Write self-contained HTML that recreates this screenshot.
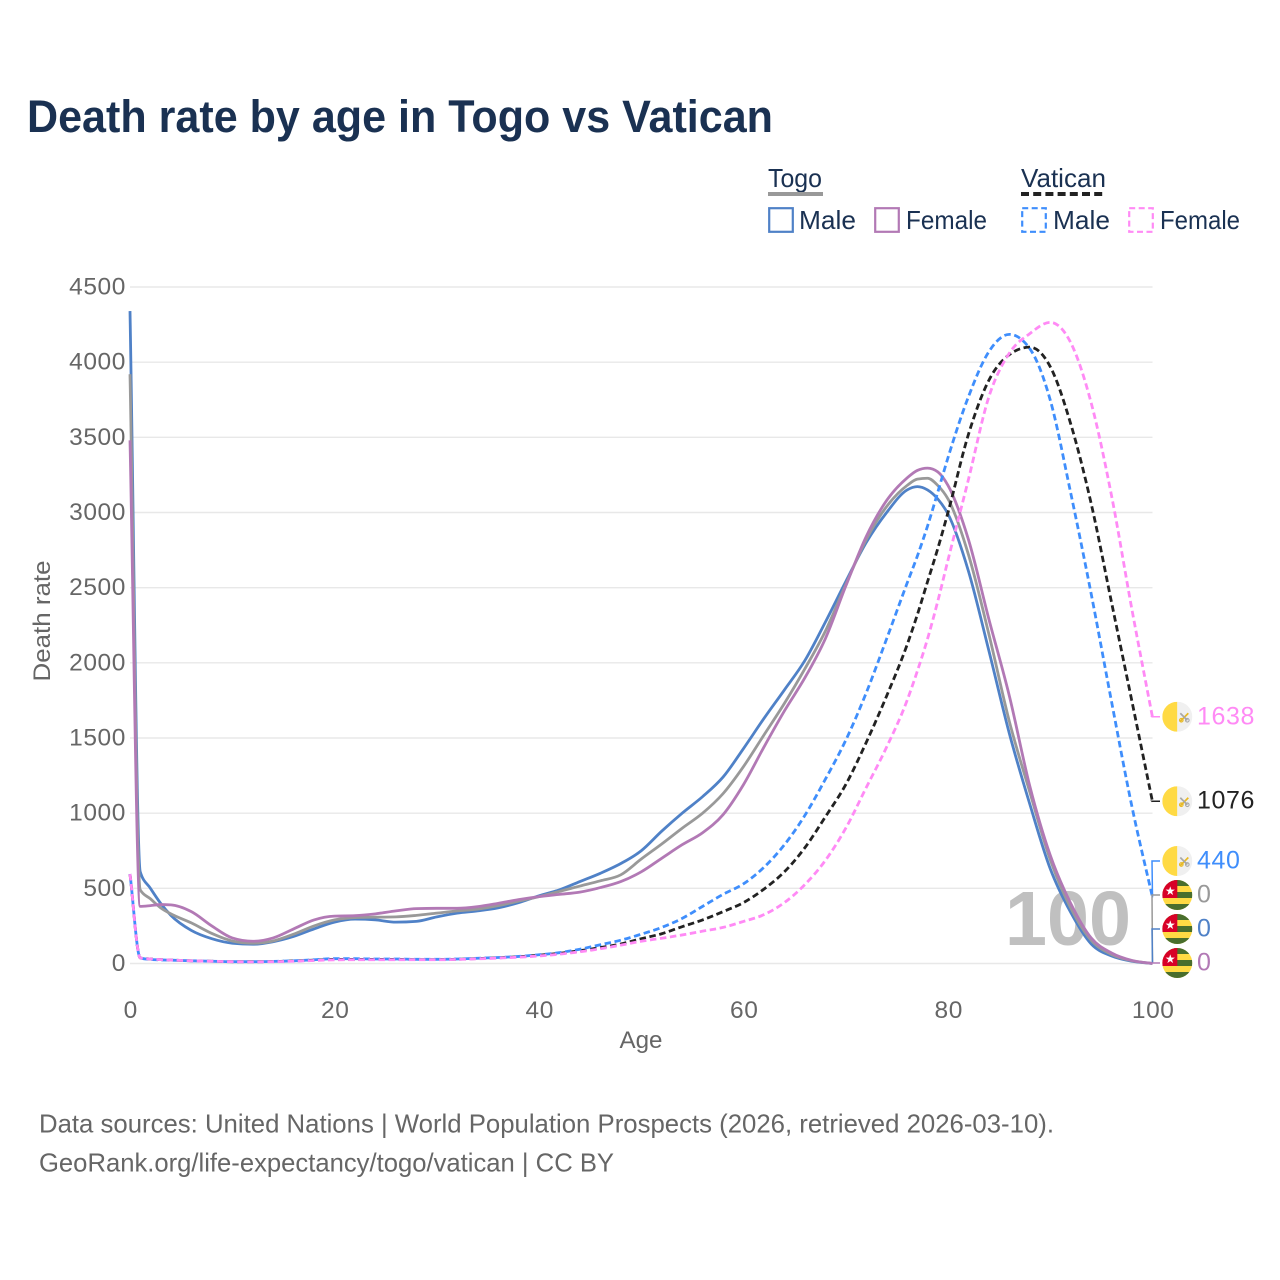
<!DOCTYPE html>
<html lang="en">
<head>
<meta charset="utf-8">
<title>Death rate by age in Togo vs Vatican</title>
<style>
html,body{margin:0;padding:0;background:#fff;}
svg{display:block;font-family:"Liberation Sans",sans-serif;}
</style>
</head>
<body>
<svg id="chart" xmlns="http://www.w3.org/2000/svg" width="1280" height="1280" viewBox="0 0 1280 1280">
  <defs>
    <clipPath id="flagClip"><circle cx="0" cy="0" r="15"/></clipPath>
  </defs>
  <rect x="0" y="0" width="1280" height="1280" fill="#ffffff"/>
  <text x="27" y="132" font-size="45" font-weight="700" fill="#1a3152" textLength="746" lengthAdjust="spacingAndGlyphs">Death rate by age in Togo vs Vatican</text>

  <g font-size="26" fill="#1a3152">
    <text x="768" y="187" textLength="54" lengthAdjust="spacingAndGlyphs">Togo</text>
    <rect x="768" y="192" width="55" height="4" fill="#999999"/>
    <text x="1021" y="187" textLength="85" lengthAdjust="spacingAndGlyphs">Vatican</text>
    <line x1="1021" y1="194" x2="1106" y2="194" stroke="#222222" stroke-width="4" stroke-dasharray="8 4.2"/>
    <rect x="769.2" y="208.2" width="23.6" height="23.6" fill="none" stroke="#4f81c7" stroke-width="2.2"/>
    <text x="799" y="229" textLength="57" lengthAdjust="spacingAndGlyphs">Male</text>
    <rect x="875.2" y="208.2" width="23.6" height="23.6" fill="none" stroke="#b279b5" stroke-width="2.2"/>
    <text x="906" y="229" textLength="81" lengthAdjust="spacingAndGlyphs">Female</text>
    <rect x="1022.2" y="208.2" width="23.6" height="23.6" fill="none" stroke="#3f8efc" stroke-width="2.2" stroke-dasharray="6 3.5"/>
    <text x="1053" y="229" textLength="57" lengthAdjust="spacingAndGlyphs">Male</text>
    <rect x="1129.2" y="208.2" width="23.6" height="23.6" fill="none" stroke="#ff8af5" stroke-width="2.2" stroke-dasharray="6 3.5"/>
    <text x="1160" y="229" textLength="80" lengthAdjust="spacingAndGlyphs">Female</text>
  </g>

  <g id="grid"></g>
  <g id="yticks"></g>
  <g id="xticks"></g>
  <text x="641" y="1048" font-size="24.5" fill="#666666" text-anchor="middle" textLength="43" lengthAdjust="spacingAndGlyphs">Age</text>
  <text transform="translate(50,621) rotate(-90)" font-size="24.5" fill="#666666" text-anchor="middle" textLength="121" lengthAdjust="spacingAndGlyphs">Death rate</text>
  <text x="1005" y="945" font-size="77" font-weight="700" fill="#c0c0c0" textLength="126" lengthAdjust="spacingAndGlyphs">100</text>

  <g id="series"></g>
  <g id="endLabels"></g>

  <g font-size="26" fill="#666666">
    <text x="39" y="1132.5" textLength="1015" lengthAdjust="spacingAndGlyphs">Data sources: United Nations | World Population Prospects (2026, retrieved 2026-03-10).</text>
    <text x="39" y="1171.5" textLength="575" lengthAdjust="spacingAndGlyphs">GeoRank.org/life-expectancy/togo/vatican | CC BY</text>
  </g>
</svg>
<script>
const ages = [0,1,2,3,4, 6,8,10,12,14,16,18,20, 22,24,26,28,30,32,34,36,38,40, 42,44,46,48,50,52,54,56,58,60, 62,64,66,68,70,72,74, 76,77,78,79,80, 82,84,86,88,90,92,94,96,98,100];
const togoMale = [4340,610,500,400,320, 220,165,135,128,145,180,230,275, 295,290,275,280,310,335,350,370,405,450, 490,545,600,665,750,880,1000,1110,1240,1430, 1630,1820,2015,2270,2540,2800,3000, 3150,3172,3150,3090,2990, 2610,2080,1530,1060,630,340,130,50,15,0];
const togoTotal = [3920,490,430,370,330, 270,200,150,135,150,195,250,290, 305,308,310,320,335,350,362,385,415,445, 480,515,550,590,695,795,900,1000,1130,1310, 1520,1730,1960,2210,2520,2820,3040, 3180,3222,3228,3180,3090, 2720,2190,1610,1140,690,370,155,60,18,0];
const togoFemale = [3480,380,385,392,390, 345,250,170,148,170,230,290,315, 318,330,350,365,367,367,378,400,425,445, 460,475,505,545,610,700,790,870,990,1190, 1440,1680,1900,2160,2510,2840,3080, 3230,3280,3295,3270,3180, 2820,2290,1780,1180,720,400,170,70,20,0];
const vaticanMale = [595,37,27,24,22, 18,15,12,12,14,18,25,32, 32,30,30,28,28,30,35,40,47,58, 72,95,125,155,195,240,300,380,460,530, 640,790,985,1225,1485,1800,2160, 2530,2710,2910,3135,3365, 3770,4070,4185,4090,3748,3130,2460,1740,1040,440];
const vaticanTotal = [595,37,30,26,23, 18,15,12,12,13,17,22,27, 27,27,27,26,26,28,33,38,45,55, 68,85,106,130,165,198,245,290,345,405, 495,610,770,975,1190,1470,1780, 2120,2320,2540,2760,3000, 3520,3880,4050,4100,3970,3590,3060,2400,1740,1076];
const vaticanFemale = [595,37,30,26,23, 18,15,12,11,12,15,20,24, 25,25,25,25,25,27,31,36,42,50, 62,78,98,122,148,168,190,215,240,280, 325,405,525,685,900,1170,1440, 1750,1945,2160,2410,2684, 3220,3770,4060,4190,4265,4130,3730,3110,2350,1638];
const yTickValues = [0,500,1000,1500,2000,2500,3000,3500,4000,4500];
const xTickValues = [0,20,40,60,80,100];

const NS = 'http://www.w3.org/2000/svg';
const X0 = 130, X1 = 1152.5, Y0 = 963.5, Y1 = 287;
function xScale(a){ return X0 + (a / 100) * (X1 - X0); }
function yScale(v){ return Y0 - (v / 4500) * (Y0 - Y1); }
function mk(tag, attrs, parent){
  const el = document.createElementNS(NS, tag);
  for (const k in attrs) el.setAttribute(k, attrs[k]);
  parent.appendChild(el);
  return el;
}

/* limited-slope cubic path: smooth, no overshoot */
function smoothPath(xs, ys){
  const n = xs.length, d = [], m = [];
  for (let i = 0; i < n - 1; i++) d.push((ys[i+1] - ys[i]) / (xs[i+1] - xs[i]));
  m[0] = d[0]; m[n-1] = d[n-2];
  for (let i = 1; i < n - 1; i++) {
    if (d[i-1] * d[i] <= 0) { m[i] = 0; }
    else {
      const h0 = xs[i] - xs[i-1], h1 = xs[i+1] - xs[i];
      const p = (d[i-1] * h1 + d[i] * h0) / (h0 + h1);
      m[i] = Math.sign(d[i]) * Math.min(Math.abs(p), 2 * Math.abs(d[i-1]), 2 * Math.abs(d[i]));
    }
  }
  let p = 'M' + xs[0].toFixed(2) + ' ' + ys[0].toFixed(2);
  for (let i = 0; i < n - 1; i++) {
    const h = (xs[i+1] - xs[i]) / 3;
    p += 'C' + (xs[i] + h).toFixed(2) + ' ' + (ys[i] + m[i] * h).toFixed(2) + ' ' +
         (xs[i+1] - h).toFixed(2) + ' ' + (ys[i+1] - m[i+1] * h).toFixed(2) + ' ' +
         xs[i+1].toFixed(2) + ' ' + ys[i+1].toFixed(2);
  }
  return p;
}

const grid = document.getElementById('grid');
const yG = document.getElementById('yticks');
const xG = document.getElementById('xticks');
yTickValues.forEach(function(v){
  const line = mk('line', {x1: X0, x2: X1, y1: yScale(v), y2: yScale(v), stroke: '#e8e8e8', 'stroke-width': 1.4}, grid);
  
  
  const t = mk('text', {x: 126, y: yScale(v) + 7.5, 'text-anchor': 'end', 'font-size': 24.5, fill: '#666666', 'letter-spacing': 0.6}, yG);
  t.textContent = String(v);
  
  
});
xTickValues.forEach(function(v){
  const t = mk('text', {x: xScale(v) + 0.7, y: 1018, 'text-anchor': 'middle', 'font-size': 24.5, fill: '#666666', 'letter-spacing': 0.6}, xG);
  t.textContent = String(v);
  
  
});

const seriesG = document.getElementById('series');
function drawSeries(name, values, color, dashed, offset){
  const attrs = {d: smoothPath(ages.map(xScale), values.map(yScale)), fill: 'none', stroke: color, 'stroke-width': 2.8, 'stroke-linejoin': 'round'};
  if (dashed) {
    attrs['stroke-dasharray'] = '6.5 3.6';
    attrs['stroke-dashoffset'] = offset;
  }
  const p = mk('path', attrs, seriesG);
  
  
}
drawSeries('togo-male-line', togoMale, '#4f81c7', false, 0);
drawSeries('togo-total-line', togoTotal, '#999999', false, 0);
drawSeries('togo-female-line', togoFemale, '#b279b5', false, 0);
drawSeries('vatican-total-line', vaticanTotal, '#222222', true, 0);
drawSeries('vatican-male-line', vaticanMale, '#3f8efc', true, 5);
drawSeries('vatican-female-line', vaticanFemale, '#ff8af5', true, 0);

/* end labels stacked bottom-up so they never overlap */
const endG = document.getElementById('endLabels');
const endNames = ['togo-female','togo-male','togo-total','vatican-male','vatican-total','vatican-female'];
const endValues = [togoFemale, togoMale, togoTotal, vaticanMale, vaticanTotal, vaticanFemale];
const endColors = ['#b279b5','#4f81c7','#999999','#3f8efc','#222222','#ff8af5'];
const endFlags = ['togo','togo','togo','vatican','vatican','vatican'];

function drawFlag(kind, cy, name){
  const g = mk('g', {transform: 'translate(1177.3,' + cy + ')', 'clip-path': 'url(#flagClip)'}, endG);
  
  
  if (kind === 'vatican') {
    mk('rect', {x: -15, y: -15, width: 15, height: 30, fill: '#ffda44'}, g);
    mk('rect', {x: 0, y: -15, width: 15, height: 30, fill: '#f0f0f0'}, g);
    mk('line', {x1: 3, y1: 4.5, x2: 11, y2: -3.5, stroke: '#e8b923', 'stroke-width': 1.7}, g);
    mk('line', {x1: 3, y1: -3.5, x2: 10, y2: 3.5, stroke: '#a8a8a8', 'stroke-width': 1.7}, g);
    mk('circle', {cx: 4, cy: 3.5, r: 1.8, fill: 'none', stroke: '#e8b923', 'stroke-width': 1.1}, g);
    mk('circle', {cx: 10, cy: 3.5, r: 1.8, fill: 'none', stroke: '#a8a8a8', 'stroke-width': 1.1}, g);
  } else {
    mk('rect', {x: -15, y: -15, width: 30, height: 30, fill: '#ffda44'}, g);
    mk('rect', {x: -15, y: -15, width: 30, height: 6, fill: '#496e2d'}, g);
    mk('rect', {x: -15, y: -3, width: 30, height: 6, fill: '#496e2d'}, g);
    mk('rect', {x: -15, y: 9, width: 30, height: 6, fill: '#496e2d'}, g);
    mk('rect', {x: -15, y: -15, width: 15, height: 18, fill: '#d80027'}, g);
    const s = mk('text', {x: -7, y: 0, 'text-anchor': 'middle', 'font-size': 12, fill: '#ffffff', 'font-family': '"DejaVu Sans",sans-serif'}, g);
    s.textContent = '\u2605';
  }
}

let prevY = Infinity;
const labelYs = endValues.map(function(vals){
  const vy = yScale(vals[vals.length - 1]);
  const ly = Math.min(vy - 0.5, prevY - 34);
  prevY = ly;
  return ly;
});
/* connectors first, top label first, so lower series sit on top */
for (let i = endValues.length - 1; i >= 0; i--) {
  const vals = endValues[i];
  const vy = yScale(vals[vals.length - 1]);
  const conn = mk('path', {d: 'M' + X1 + ' ' + vy + 'L' + (X1 - 0.5) + ' ' + labelYs[i] + 'L1160 ' + labelYs[i], fill: 'none', stroke: endColors[i], 'stroke-width': 1.5}, endG);
  
  
}
endValues.forEach(function(vals, i){
  const v = vals[vals.length - 1];
  drawFlag(endFlags[i], labelYs[i], endNames[i] + '-flag');
  const t = mk('text', {x: 1197, y: labelYs[i] + 7.5, 'font-size': 25, fill: endColors[i], 'letter-spacing': 0.6}, endG);
  t.textContent = String(Math.round(v));
  
  
});
</script>
</body>
</html>
